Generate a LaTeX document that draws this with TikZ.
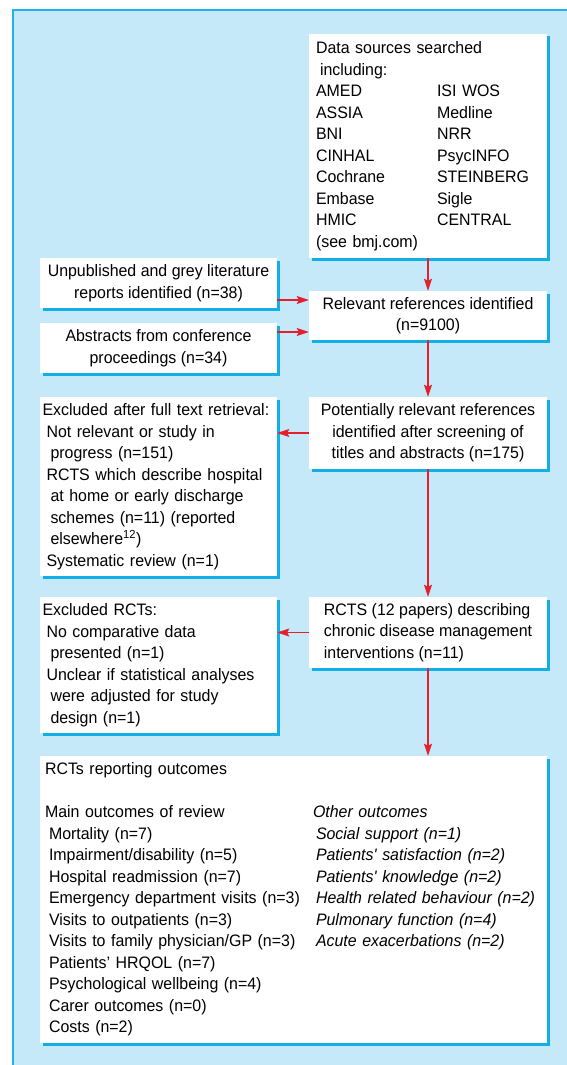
\documentclass[tikz,border=0pt]{standalone}
\usepackage{fontspec}
\setmainfont{Liberation Sans}[FakeStretch=0.96]
\usetikzlibrary{arrows.meta,shadows}
\definecolor{panelbg}{HTML}{C6E9F9}
\definecolor{panelline}{HTML}{1FB3EA}
\definecolor{shadowc}{HTML}{12AEE6}
\definecolor{arrowred}{HTML}{E3202B}
\begin{document}
\begin{tikzpicture}[x=1pt,y=1pt,
  font=\fontsize{16.6}{21.5}\selectfont,
  box/.style={fill=white, inner ysep=3pt,
    drop shadow={shadow xshift=2.5pt, shadow yshift=-2.5pt, fill=shadowc, opacity=1}},
  cbox/.style={box, align=center, minimum width=238pt},
  lbox/.style={box, align=left},
  link/.style={draw=arrowred, line width=1.4pt,
    -{Stealth[length=12pt,width=8pt,inset=2pt]}}]

\useasboundingbox (0,0) rectangle (567,-1065);
\fill[panelbg] (12,-9) rectangle (567,-1065);
\draw[panelline, line width=2pt] (13,-1065) -- (13,-9.8) -- (567,-9.8);

% right column
\node[lbox, minimum width=238pt, minimum height=224pt, text width=224pt, inner xsep=7pt] (data) at (428,-146)
{\begin{tabular}{@{}p{121pt}@{}l@{}}
\multicolumn{2}{@{}l@{}}{Data sources searched}\\
\multicolumn{2}{@{}l@{}}{\hspace*{4pt}including:}\\
AMED & ISI WOS\\
ASSIA & Medline\\
BNI & NRR\\
CINHAL & PsycINFO\\
Cochrane & STEINBERG\\
Embase & Sigle\\
HMIC & CENTRAL\\
(see bmj.com) & \\
\end{tabular}};

\node[cbox, minimum height=49pt] (rel) at (428,-315.5)
{Relevant references identified\\(n=9100)};

\node[cbox, minimum height=72pt] (pot) at (428,-433)
{Potentially relevant references\\identified after screening of\\titles and abstracts (n=175)};

\node[lbox, minimum width=238pt, minimum height=71pt] (rcts) at (428,-632.5)
{RCTS (12 papers) describing\\chronic disease management\\interventions (n=11)};

% left column
\node[cbox, minimum width=237pt, minimum height=50pt] (unpub) at (158.5,-283)
{Unpublished and grey literature\\reports identified (n=38)};

\node[cbox, minimum width=237pt, minimum height=50pt] (abs) at (158.5,-348)
{Abstracts from conference\\proceedings (n=34)};

\node[lbox, minimum width=237pt, minimum height=179pt, text width=232pt, inner xsep=2.5pt] (exc1) at (158.5,-486.5)
{\mbox{Excluded after full text retrieval:}\\
\hspace*{4pt}Not relevant or study in\\
\hspace*{8pt}progress (n=151)\\
\hspace*{4pt}RCTS which describe hospital\\
\hspace*{8pt}at home or early discharge\\
\hspace*{8pt}schemes (n=11) (reported\\
\hspace*{8pt}elsewhere\textsuperscript{12})\\
\hspace*{4pt}Systematic review (n=1)};

\node[lbox, minimum width=237pt, minimum height=136pt, text width=232pt, inner xsep=2.5pt] (exc2) at (158.5,-665)
{Excluded RCTs:\\
\hspace*{4pt}No comparative data\\
\hspace*{8pt}presented (n=1)\\
\hspace*{4pt}Unclear if statistical analyses\\
\hspace*{8pt}were adjusted for study\\
\hspace*{8pt}design (n=1)};

% bottom
\node[lbox, minimum width=507pt, minimum height=287pt, text width=497pt, inner xsep=5pt] (out) at (293.5,-899.5)
{\begin{tabular}{@{}p{268pt}@{}l@{}}
\multicolumn{2}{@{}l@{}}{RCTs reporting outcomes}\\
 & \\
Main outcomes of review & \textit{Other outcomes}\\
\hspace*{4pt}Mortality (n=7) & \hspace*{3pt}\textit{Social support (n=1)}\\
\hspace*{4pt}Impairment/disability (n=5) & \hspace*{3pt}\textit{Patients\textquotesingle\ satisfaction (n=2)}\\
\hspace*{4pt}Hospital readmission (n=7) & \hspace*{3pt}\textit{Patients\textquotesingle\ knowledge (n=2)}\\
\hspace*{4pt}Emergency department visits (n=3) & \hspace*{3pt}\textit{Health related behaviour (n=2)}\\
\hspace*{4pt}Visits to outpatients (n=3) & \hspace*{3pt}\textit{Pulmonary function (n=4)}\\
\hspace*{4pt}Visits to family physician/GP (n=3) & \hspace*{3pt}\textit{Acute exacerbations (n=2)}\\
\hspace*{4pt}Patients’ HRQOL (n=7) & \\
\hspace*{4pt}Psychological wellbeing (n=4) & \\
\hspace*{4pt}Carer outcomes (n=0) & \\
\hspace*{4pt}Costs (n=2) & \\
\end{tabular}};

% connectors
\coordinate (u1) at ([yshift=-17pt]unpub.east);
\coordinate (a1) at ([yshift=16pt]abs.east);
\draw[link] (data.south) -- (rel.north);
\draw[link] (u1) -- (u1 -| rel.west);
\draw[link] (a1) -- (a1 -| rel.west);
\draw[link] (rel.south) -- (pot.north);
\draw[link] (pot.west) -- (pot.west -| exc1.east);
\draw[link] (pot.south) -- (rcts.north);
\draw[link] (rcts.west) -- (rcts.west -| exc2.east);
\draw[link] (rcts.south) -- (rcts.south |- out.north);
\end{tikzpicture}
\end{document}
